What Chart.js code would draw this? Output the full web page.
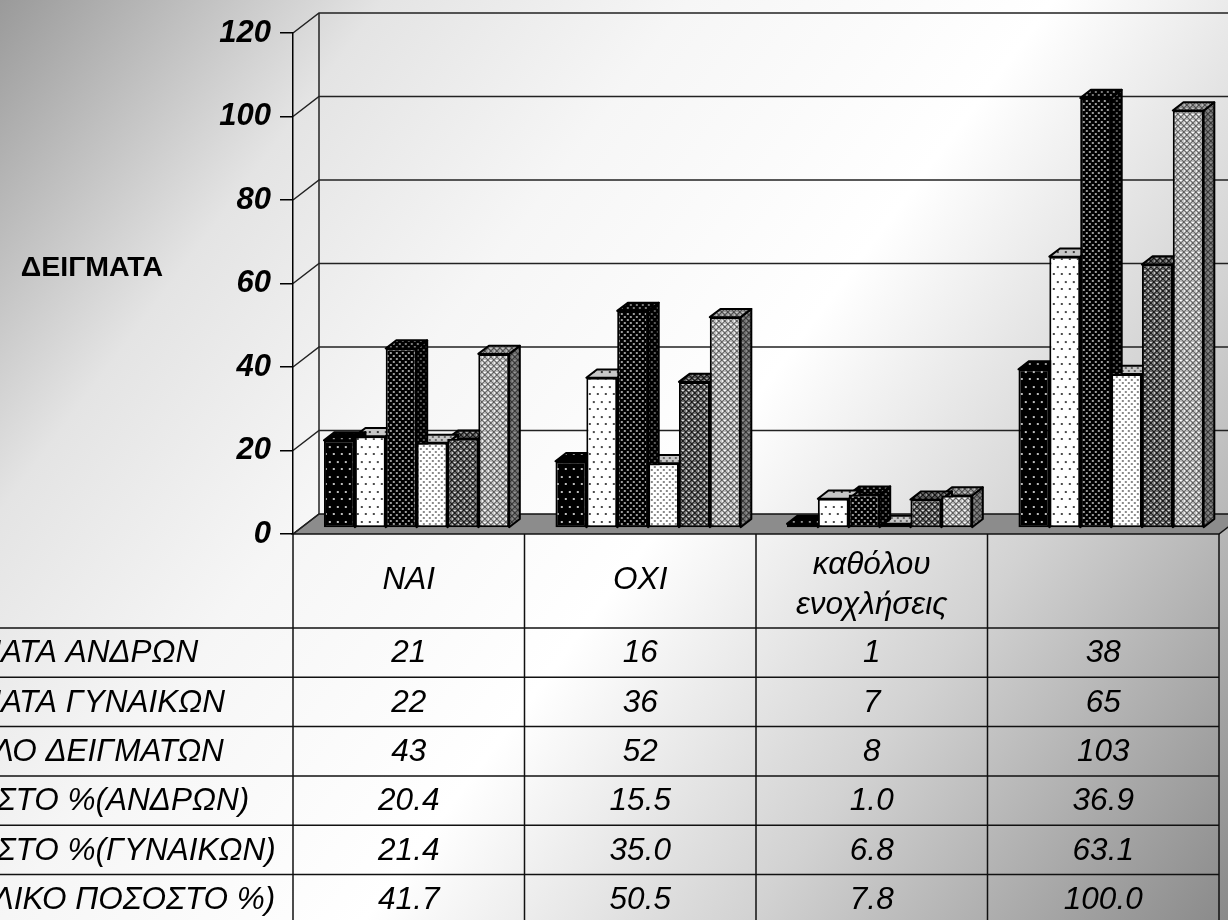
<!DOCTYPE html>
<html>
<head>
<meta charset="utf-8">
<script src="https://cdn.jsdelivr.net/npm/chart.js@4.4.1/dist/chart.umd.min.js"></script>
<style>
  html, body { margin: 0; padding: 0; background: #fff; overflow: hidden; }
  #wrap { width: 1228px; height: 920px; }
  canvas { display: block; }
</style>
</head>
<body>
<div id="wrap"><canvas id="chart" width="1228" height="920"></canvas></div>
<script>
// ---- data ----
const categories = ['ΝΑΙ', 'ΟΧΙ', ['καθόλου', 'ενοχλήσεις'], ''];
const seriesNames = [
  'ΔΕΙΓΜΑΤΑ ΑΝΔΡΩΝ',
  'ΔΕΙΓΜΑΤΑ ΓΥΝΑΙΚΩΝ',
  'ΣΥΝΟΛΟ ΔΕΙΓΜΑΤΩΝ',
  'ΠΟΣΟΣΤΟ %(ΑΝΔΡΩΝ)',
  'ΠΟΣΟΣΤΟ %(ΓΥΝΑΙΚΩΝ)',
  'ΣΥΝΟΛΙΚΟ ΠΟΣΟΣΤΟ %)'
];
const menSamples   = [21, 16, 1, 38];
const womenSamples = [22, 36, 7, 65];
const totalSamples = [43, 52, 8, 103];
const menPercent   = [20.4, 15.5, 1.0, 36.9];
const womenPercent = [21.4, 35.0, 6.8, 63.1];
const totalPercent = [41.7, 50.5, 7.8, 100.0];
const seriesDecimals = [0, 0, 0, 1, 1, 1];
const yTicks = [0, 20, 40, 60, 80, 100, 120];
const axisTitle = 'ΔΕΙΓΜΑΤΑ';

const seriesValues = [menSamples, womenSamples, totalSamples, menPercent, womenPercent, totalPercent];

// ---- 3D geometry (wall depth and bar placement inside it) ----
const WALL_DX = 26, WALL_DY = -20;
const BAR_SHIFT = 0.3;   // fraction of depth in front of the bars
const BAR_DEPTH = 0.41;  // bar thickness as fraction of depth
const FONT = "'Liberation Sans', Arial, sans-serif";

const canvas = document.getElementById('chart');
const mainCtx = canvas.getContext('2d');

// ---- fill patterns ----
function tile(w, h, bg, paint) {
  const c = document.createElement('canvas');
  c.width = w; c.height = h;
  const g = c.getContext('2d');
  g.fillStyle = bg; g.fillRect(0, 0, w, h);
  paint(g);
  return mainCtx.createPattern(c, 'repeat');
}
function px(g, x, y, s, col) { g.fillStyle = col; g.fillRect(x, y, s, s); }
function lattice(g, ink, light) {
  for (let i = 0; i < 6; i++) { px(g, i, i, 1, ink); px(g, 5 - i, i, 1, ink); }
  px(g, 2, 0, 1, light); px(g, 3, 0, 1, light);
  px(g, 0, 2, 1, light); px(g, 0, 3, 1, light);
}
const patterns = [
  tile(8, 15, '#000', g => { px(g, 1, 2, 2, '#bdbdbd'); px(g, 5, 9, 2, '#bdbdbd'); }),
  tile(8, 15, '#fff', g => { px(g, 1, 2, 2, '#4a4a4a'); px(g, 5, 9, 2, '#4a4a4a'); }),
  tile(6, 6, '#000', g => { px(g, 1, 1, 2, '#9a9a9a'); px(g, 4, 4, 2, '#9a9a9a'); }),
  tile(6, 6, '#fff', g => { px(g, 1, 1, 2, '#8a8a8a'); px(g, 4, 4, 2, '#8a8a8a'); }),
  tile(6, 6, '#6e6e6e', g => lattice(g, '#161616', '#e0e0e0')),
  tile(6, 6, '#bcbcbc', g => lattice(g, '#5a5a5a', '#ffffff'))
];

// ---- scene: background, walls, floor, 3D bar faces, data table ----
function poly(ctx, pts) {
  ctx.beginPath();
  ctx.moveTo(pts[0][0], pts[0][1]);
  for (let i = 1; i < pts.length; i++) ctx.lineTo(pts[i][0], pts[i][1]);
  ctx.closePath();
}

const scenePlugin = {
  id: 'scene',
  beforeDraw(chart) {
    const { ctx, width, height, chartArea: a } = chart;
    const y = chart.scales.y;
    ctx.save();
    const g = ctx.createLinearGradient(0, 0, width, height);
    g.addColorStop(0.0, '#9a9a9a');
    g.addColorStop(0.2, '#e4e4e4');
    g.addColorStop(0.36, '#f6f6f6');
    g.addColorStop(0.55, '#ffffff');
    g.addColorStop(0.75, '#d2d2d2');
    g.addColorStop(1.0, '#8a8a8a');
    ctx.fillStyle = g;
    ctx.fillRect(0, 0, width, height);

    const y0 = y.getPixelForValue(0);
    const yTop = y.getPixelForValue(y.max);
    const bx = a.left + WALL_DX;

    // floor
    poly(ctx, [[a.left, y0], [bx, y0 + WALL_DY], [a.right + WALL_DX, y0 + WALL_DY], [a.right, y0]]);
    ctx.fillStyle = '#8c8c8c';
    ctx.fill();
    ctx.lineWidth = 1.5;
    ctx.strokeStyle = '#111';
    ctx.stroke();

    // back-wall grid lines and side-wall diagonals
    ctx.lineWidth = 1.5;
    ctx.strokeStyle = '#222';
    y.ticks.forEach(t => {
      const py = y.getPixelForValue(t.value);
      ctx.beginPath();
      ctx.moveTo(a.left, py);
      ctx.lineTo(bx, py + WALL_DY);
      if (t.value > 0) ctx.lineTo(width + 10, py + WALL_DY);
      ctx.stroke();
    });
    ctx.beginPath();
    ctx.moveTo(bx, yTop + WALL_DY);
    ctx.lineTo(bx, y0 + WALL_DY);
    ctx.stroke();
    ctx.restore();
  },
  beforeDatasetsDraw(chart) {
    const ctx = chart.ctx;
    ctx.save();
    ctx.translate(BAR_SHIFT * WALL_DX, BAR_SHIFT * WALL_DY);
    const dx = BAR_DEPTH * WALL_DX, dy = BAR_DEPTH * WALL_DY;
    const bars = [];
    chart.data.datasets.forEach((ds, i) => {
      chart.getDatasetMeta(i).data.forEach(el => bars.push({ el, fill: ds.backgroundColor }));
    });
    bars.sort((p, q) => q.el.x - p.el.x);
    ctx.lineWidth = 2;
    ctx.lineJoin = 'round';
    ctx.strokeStyle = '#000';
    bars.forEach(({ el, fill }) => {
      const l = el.x - el.width / 2, r = el.x + el.width / 2, t = el.y, b = el.base;
      const faces = [
        { pts: [[r, t], [r + dx, t + dy], [r + dx, b + dy], [r, b]], shade: 'rgba(0,0,0,0.42)' },
        { pts: [[l, t], [r, t], [r + dx, t + dy], [l + dx, t + dy]], shade: 'rgba(0,0,0,0.22)' }
      ];
      faces.forEach(f => {
        poly(ctx, f.pts);
        ctx.fillStyle = fill; ctx.fill();
        ctx.fillStyle = f.shade; ctx.fill();
        ctx.stroke();
      });
    });
  },
  afterDatasetsDraw(chart) {
    chart.ctx.restore();
  },
  afterDraw(chart) {
    const { ctx, chartArea: a, height } = chart;
    const n = categories.length;
    const colW = (a.right - a.left) / n;
    const headBottom = a.bottom + 94;
    const rowH = 49.3;
    ctx.save();

    // grid of the table
    ctx.strokeStyle = '#111';
    ctx.lineWidth = 1.5;
    for (let k = 0; k <= seriesValues.length; k++) {
      const yy = headBottom + k * rowH;
      ctx.beginPath(); ctx.moveTo(0, yy); ctx.lineTo(a.right, yy); ctx.stroke();
    }
    for (let j = 0; j <= n; j++) {
      const xx = a.left + j * colW;
      ctx.beginPath(); ctx.moveTo(xx, a.bottom); ctx.lineTo(xx, height); ctx.stroke();
    }

    ctx.fillStyle = '#000';
    ctx.textBaseline = 'middle';
    ctx.font = 'italic 31.5px ' + FONT;

    // header: category names
    ctx.textAlign = 'center';
    categories.forEach((c, j) => {
      const cx = a.left + (j + 0.5) * colW;
      const lines = Array.isArray(c) ? c : [c];
      const cy = (a.bottom + headBottom) / 2 + (lines.length > 1 ? 4 : -1);
      const lh = 40;
      lines.forEach((s, k) => ctx.fillText(s, cx, cy + (k - (lines.length - 1) / 2) * lh));
    });

    // body rows
    seriesValues.forEach((vals, r) => {
      const cy = headBottom + (r + 0.5) * rowH + 1;
      ctx.textAlign = 'left';
      ctx.fillText(seriesNames[r], -94, cy);
      ctx.textAlign = 'center';
      vals.forEach((v, j) => {
        ctx.fillText(v.toFixed(seriesDecimals[r]), a.left + (j + 0.5) * colW, cy);
      });
    });

    // value-axis title
    ctx.font = 'bold 28.5px ' + FONT;
    ctx.textAlign = 'center';
    ctx.fillText(axisTitle, 92, 268);
    ctx.restore();
  }
};

new Chart(canvas, {
  type: 'bar',
  data: {
    labels: categories,
    datasets: seriesValues.map((vals, i) => ({
      label: seriesNames[i],
      data: vals,
      backgroundColor: patterns[i],
      borderColor: '#000',
      borderWidth: 2,
      borderSkipped: false,
      categoryPercentage: 0.8,
      barPercentage: 1.0,
      clip: false
    }))
  },
  options: {
    responsive: false,
    devicePixelRatio: 1,
    animation: false,
    layout: { padding: { left: 0, top: 33, right: 9, bottom: 386 } },
    plugins: { legend: { display: false }, tooltip: { enabled: false } },
    scales: {
      x: { display: false, offset: true },
      y: {
        min: 0,
        max: 120,
        afterBuildTicks: s => { s.ticks = yTicks.map(v => ({ value: v })); },
        afterFit: s => { s.width = 293; },
        ticks: {
          color: '#000',
          padding: 9,
          font: { family: FONT, size: 31, weight: 'bold', style: 'italic' }
        },
        grid: { drawOnChartArea: false, drawTicks: true, tickLength: 13, color: '#000', lineWidth: 1.5 },
        border: { display: true, color: '#000', width: 1.5 }
      }
    }
  },
  plugins: [scenePlugin]
});
</script>
</body>
</html>
